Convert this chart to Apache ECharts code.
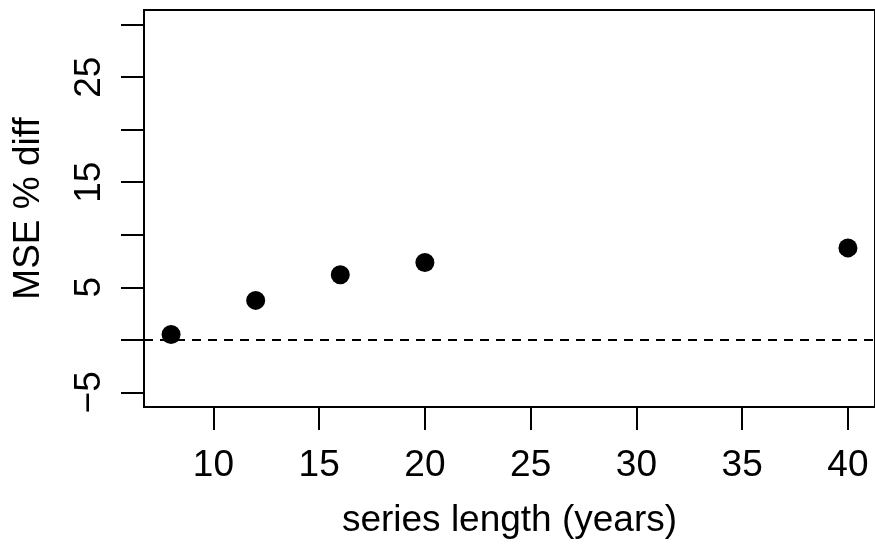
<!DOCTYPE html>
<html>
<head>
<meta charset="utf-8">
<script src="https://cdn.jsdelivr.net/npm/echarts@6/dist/echarts.min.js"></script>
<style>
  html, body { margin: 0; padding: 0; background: #fff; }
  #chart { width: 875px; height: 548px; }
</style>
</head>
<body>
<div id="chart"></div>
<script>
// series length (years) and MSE % diff
var seriesLength = [8, 12, 16, 20, 40]
var mseDiff = [0.5, 3.75, 6.2, 7.35, 8.75]

// axis ticks / labels
var xTicks = [10, 15, 20, 25, 30, 35, 40]
var yTicks = [-5, 0, 5, 10, 15, 20, 25, 30]
var yLabels = [-5, 5, 15, 25]

var FONT = 'Liberation Sans, Arial, Helvetica, sans-serif'

var chart = echarts.init(document.getElementById('chart'))

var points = seriesLength.map(function (x, i) { return [x, mseDiff[i]] })

var option = {
  animation: false,
  grid: {
    left: 144,
    top: 10,
    right: -1,
    bottom: 141,
    show: true,
    borderColor: '#000',
    borderWidth: 2
  },
  xAxis: {
    type: 'value',
    min: 6.72,
    max: 41.28,
    name: 'series length (years)',
    nameLocation: 'middle',
    nameGap: 95,
    nameTextStyle: { fontFamily: FONT, fontSize: 37, color: '#000' },
    splitLine: { show: false },
    axisLine: { show: true, onZero: false, lineStyle: { color: '#000', width: 2 } },
    axisTick: { show: true, customValues: xTicks, length: 23, lineStyle: { color: '#000', width: 2 } },
    axisLabel: {
      customValues: xTicks,
      margin: 40,
      fontFamily: FONT,
      fontSize: 37,
      color: '#000'
    }
  },
  yAxis: {
    type: 'value',
    min: -6.4,
    max: 31.4,
    name: 'MSE % diff',
    nameLocation: 'middle',
    nameRotate: 90,
    nameGap: 97,
    nameTextStyle: { fontFamily: FONT, fontSize: 37, color: '#000' },
    splitLine: { show: false },
    axisLine: { show: true, onZero: false, lineStyle: { color: '#000', width: 2 } },
    axisTick: { show: true, customValues: yTicks, length: 23, lineStyle: { color: '#000', width: 2 } },
    axisLabel: {
      customValues: yLabels,
      rotate: 90,
      margin: 36,
      fontFamily: FONT,
      fontSize: 37,
      color: '#000',
      formatter: function (v) { return String(v).replace('-', '\u2212') }
    }
  },
  series: [
    {
      type: 'scatter',
      data: points,
      symbol: 'circle',
      symbolSize: 19,
      itemStyle: { color: '#000', opacity: 1 },
      markLine: {
        silent: true,
        symbol: 'none',
        label: { show: false },
        lineStyle: { color: '#000', width: 2, type: [9, 7], opacity: 1 },
        data: [{ yAxis: 0 }]
      }
    }
  ]
}

chart.setOption(option)
</script>
</body>
</html>
